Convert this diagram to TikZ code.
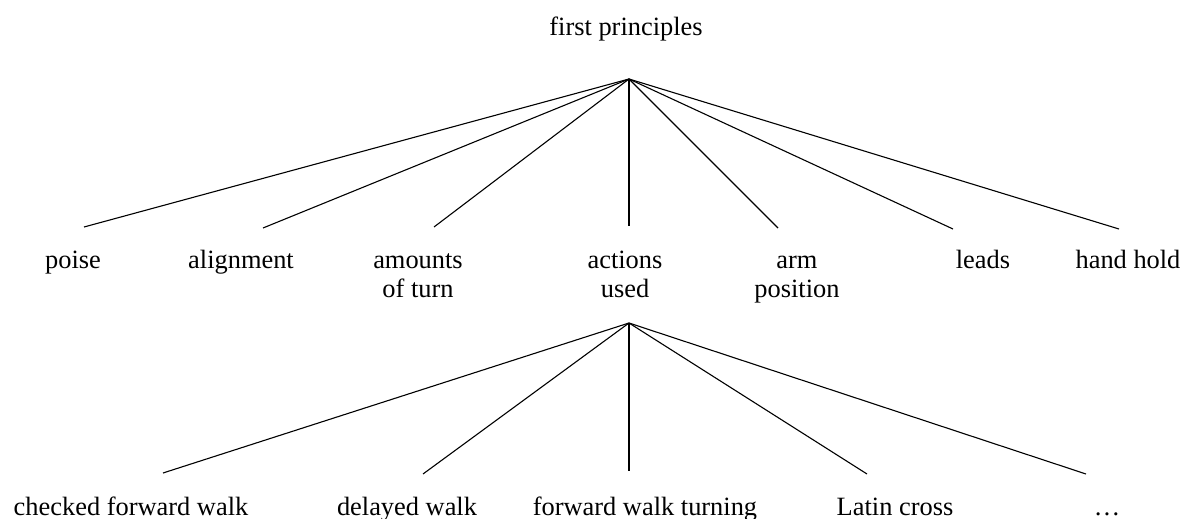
\documentclass[tikz,border=0pt]{standalone}
\usepackage{fontspec}
\setmainfont{Liberation Serif}
\begin{document}
\begin{tikzpicture}[x=1pt,y=-1pt,
  every node/.style={inner sep=0pt,outer sep=0pt,anchor=base,
    font=\fontsize{26.4}{29.5}\selectfont},
  branch/.style={line width=1.1pt,black}]
\useasboundingbox (0,0) rectangle (1184,519);

% root and first-level labels
\node (root) at (626,36) {first principles};
\coordinate (apex) at (629,79);

\node (poise) at (73,268) {poise};
\node (align) at (241,268) {alignment};
\node (turn) at (418,268) {\begin{tabular}[t]{@{}c@{}}amounts\\of turn\end{tabular}};
\node (act) at (625,268) {\begin{tabular}[t]{@{}c@{}}actions\\used\end{tabular}};
\node (arm) at (797,268) {\begin{tabular}[t]{@{}c@{}}arm\\position\end{tabular}};
\node (leads) at (983,268) {leads};
\node (hand) at (1128,268) {hand hold};

% line ends above the first-level labels
\coordinate (e1) at (84,227);
\coordinate (e2) at (263,228);
\coordinate (e3) at (434,227);
\coordinate (e4) at (629,226);
\coordinate (e5) at (778,228);
\coordinate (e6) at (953,229);
\coordinate (e7) at (1119,229);

\foreach \e in {e1,e2,e3,e4,e5,e6,e7}
  \draw[branch] (apex) -- (\e);

% second level under "actions used"
\coordinate (apexb) at (629,323);

\node (cfw) at (131,515) {checked forward walk};
\node (dw) at (407,515) {delayed walk};
\node (fwt) at (645,515) {forward walk turning};
\node (lc) at (895,515) {Latin cross};
\node (more) at (1107,515) {\dots};

\coordinate (f1) at (163,473);
\coordinate (f2) at (423,474);
\coordinate (f3) at (629,471);
\coordinate (f4) at (867,474);
\coordinate (f5) at (1086,474);

\foreach \f in {f1,f2,f3,f4,f5}
  \draw[branch] (apexb) -- (\f);
\end{tikzpicture}
\end{document}
